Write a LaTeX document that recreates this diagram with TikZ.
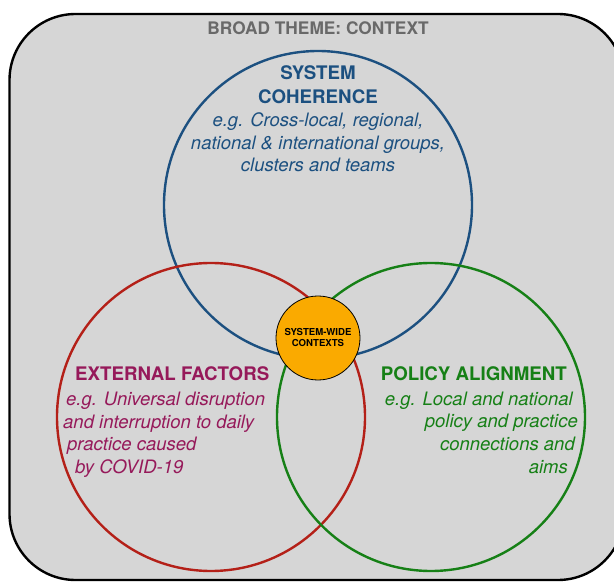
\documentclass[tikz,border=0pt]{standalone}
\usepackage{fontspec}
\setmainfont{TeX Gyre Heros}
\definecolor{bg}{RGB}{214,214,214}
\definecolor{cblue}{RGB}{28,80,128}
\definecolor{cred}{RGB}{180,32,24}
\definecolor{cmag}{RGB}{150,25,90}
\definecolor{cgreen}{RGB}{22,128,22}
\definecolor{corange}{RGB}{250,170,0}
\definecolor{cgray}{RGB}{105,105,105}
\begin{document}
\begin{tikzpicture}[x=1pt,y=-1pt,
  ring/.style={circle, draw, line width=2.4pt, minimum size=#1, inner sep=0pt},
  head/.style={font=\fontsize{18.7}{23}\selectfont\bfseries, inner sep=0pt},
  body/.style={font=\fontsize{18.5}{23}\selectfont\itshape, inner sep=0pt}]
\useasboundingbox (0,0) rectangle (614,583);
\clip (0,0) rectangle (614,583);
\fill[white] (0,0) rectangle (614,583);
\draw[fill=bg, line width=2.4pt, rounded corners=66pt] (9.5,14) rectangle (624,580);
\node[font=\fontsize{17.3}{20}\selectfont\bfseries, text=cgray, inner sep=0pt, anchor=base] (theme) at (318,34.5) {BROAD THEME: CONTEXT};
% circles
\node[ring=308pt, draw=cblue] (coh) at (318,205) {};
\node[ring=308pt, draw=cred] (ext) at (211,417) {};
\node[ring=308pt, draw=cgreen] (pol) at (431,417) {};
\node[circle, draw=black, line width=0.8pt, fill=corange, minimum size=84pt, inner sep=0pt,
      font=\fontsize{9.6}{11}\selectfont\bfseries, align=center] (sw) at (318,338) {SYSTEM-WIDE\\CONTEXTS};
% system coherence
\node[head, text=cblue, anchor=base] (coh1) at (318,80) {SYSTEM};
\node[head, text=cblue, anchor=base] (coh2) at (318,104) {COHERENCE};
\node[body, text=cblue, anchor=base] (coh3) at (318,126.5) {e.g. Cross-local, regional,};
\node[body, text=cblue, anchor=base] (coh4) at (318,149.5) {national \& international groups,};
\node[body, text=cblue, anchor=base] (coh5) at (318,171.5) {clusters and teams};
% external factors
\node[head, text=cmag, anchor=base west] (ext1) at (75,381) {EXTERNAL FACTORS};
\node[body, text=cmag, anchor=base west] (ext2) at (66,405.5) {e.g. Universal disruption};
\node[body, text=cmag, anchor=base west] (ext3) at (63,428.5) {and interruption to daily};
\node[body, text=cmag, anchor=base west] (ext4) at (67,450.5) {practice caused};
\node[body, text=cmag, anchor=base west] (ext5) at (75,473.5) {by COVID-19};
% policy alignment
\node[head, text=cgreen, anchor=base east] (pol1) at (567,381) {POLICY ALIGNMENT};
\node[body, text=cgreen, anchor=base east] (pol2) at (573,405.5) {e.g. Local and national};
\node[body, text=cgreen, anchor=base east] (pol3) at (578,427.5) {policy and practice};
\node[body, text=cgreen, anchor=base east] (pol4) at (575,450) {connections and};
\node[body, text=cgreen, anchor=base east] (pol5) at (568,473.5) {aims};
\end{tikzpicture}
\end{document}
